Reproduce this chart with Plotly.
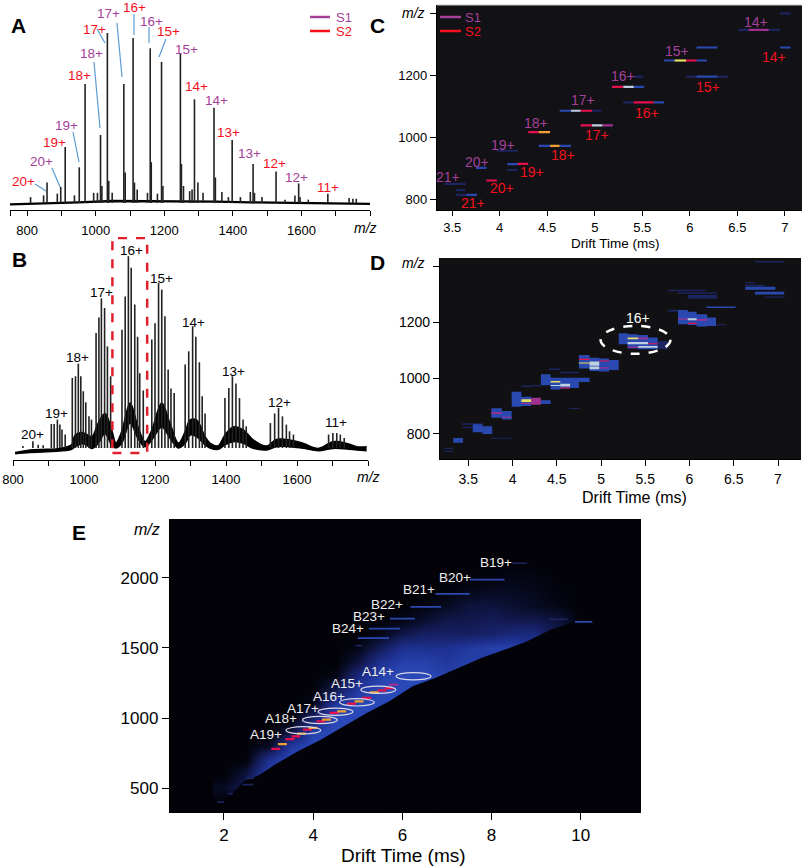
#!/usr/bin/env python
"""
Mass spectra (A, B) and drift time vs m/z maps (C, D, E)
"""
import plotly.graph_objects as go

W = 803
H = 867

# panel A, sticks
a_mz = [858, 898, 911, 952, 969, 1014, 1034, 1082, 1109, 1159, 1192, 1247, 1288, 1345, 1398, 1459, 1526, 1592, 1677,
        810, 848, 888, 938, 994, 1005, 1018, 1038, 1048, 1086, 1113, 1121, 1151, 1162, 1180, 1196, 1250, 1256, 1274,
        1281, 1298, 1313, 1349, 1368, 1387, 1422, 1451, 1463, 1485, 1552, 1581, 1596, 1620, 1739, 1750, 1760]
a_int = [12, 9.5, 33, 21, 70, 40, 100, 70, 97, 91, 83, 88, 61, 56, 37, 23, 18.5, 11.5, 5.5,
         3.5, 4.5, 5.5, 4.5, 6, 6, 10, 13, 6, 18, 12, 8, 6, 24, 5.5, 10, 23, 10, 7,
         8, 12, 6, 15, 6.5, 3.5, 3.5, 6.5, 6, 3.5, 2, 4.5, 3.5, 2, 3, 2.5, 2.5]
a_base_mz = [750, 850, 950, 1050, 1150, 1250, 1350, 1450, 1600, 1800]
a_base_int = [-0.8, -0.4, 0.4, 1.2, 1.2, 1.2, 0.8, 0.4, 0, -0.5]

# panel B, isotope/adduct sticks
b_mz = [828, 856, 871, 885, 908, 916, 925, 932, 938, 947,
        967, 976, 984, 991, 998, 1005, 1014, 1021,
        1034, 1042, 1049, 1058, 1066, 1075,
        1107, 1116, 1125, 1133, 1143, 1151, 1157, 1167,
        1191, 1200, 1210, 1219, 1228, 1237, 1245, 1254,
        1285, 1295, 1306, 1315, 1325, 1333, 1341,
        1397, 1408, 1418, 1428, 1438, 1448, 1457,
        1525, 1537, 1548, 1559, 1570, 1579, 1590,
        1689, 1701, 1712, 1722, 1733]
b_int = [1, 3.5, 1.7, 1.4, 12.5, 12.5, 14.8, 12.2, 9.6, 7,
         36.5, 37.4, 44, 37.4, 29.6, 23.8, 16.5, 14.8,
         60, 68, 78, 73, 53, 37.4,
         61.7, 79, 100, 94, 74.8, 58, 39, 30,
         56.5, 65, 86, 82.6, 68.7, 40.9, 31, 28.7,
         43.5, 50.4, 63.5, 58, 44.7, 27, 18,
         26, 31.3, 37.4, 33.6, 26, 14.8, 11.3,
         13, 18, 20.9, 16.5, 12.2, 8.7, 7,
         7, 7.8, 7.8, 7, 5.2]
# panel B, solid noise band under the sticks
b_env_mz = [806, 848, 895, 932, 965, 975, 998, 1022, 1040, 1059, 1078, 1090, 1106, 1130, 1152, 1172, 1191, 1219,
            1242, 1266, 1285, 1299, 1317, 1341, 1355, 1378, 1397, 1420, 1449, 1477, 1514, 1542, 1580, 1618, 1660,
            1702, 1740, 1768, 1796]
b_env_top = [-2.4, -1, -0.7, -0.2, 1.6, 6.8, 8, 5.9, 13, 18, 9.4, 2.6, 8.5, 23.4, 11, 3.3, 9.4, 23.4,
             13, 2.6, 8.5, 14.6, 14.6, 5.9, 2.6, 1.2, 6.8, 11, 9.4, 4.2, 1, 4.5, 4.2, 2.4, -0.2,
             3.3, 2.4, 0.7, 0.7]
b_env_low = [-3, -2.4, -1.9, -1.6, -0.7, 0.7, 2.4, -0.2, 2.4, 7.5, 1.6, 0, 2.4, 13, 5, 0.7, 4.2, 11,
             5.2, 0, 2.4, 6.8, 5.9, 1.6, 0, -0.7, 1.6, 3.3, 2.4, -0.2, -1, 0.7, 0.7, -0.2, -1.4,
             -0.2, -0.5, -1, -1.4]

# panel C, one row per intensity band
c_t0 = [3.42, 3.54, 3.54, 3.65, 3.75, 3.86, 3.97, 4.08, 4.19, 4.08, 4.30, 4.41, 4.41, 4.53, 4.63,
        4.63, 4.75, 4.85, 4.97, 4.85, 4.97, 5.08, 5.18, 5.30, 5.41, 5.41, 5.30, 5.41, 5.62,
        5.73, 5.84, 5.96, 6.07, 5.96, 6.07, 6.29, 6.07, 6.51, 6.62, 6.83, 6.95, 6.95]
c_t1 = [3.64, 3.64, 3.65, 3.76, 3.86, 3.97, 4.19, 4.19, 4.30, 4.19, 4.41, 4.53, 4.53, 4.63, 4.75,
        4.75, 4.85, 4.97, 5.07, 4.97, 5.08, 5.19, 5.30, 5.41, 5.52, 5.51, 5.41, 5.62, 5.73,
        5.84, 5.96, 6.07, 6.18, 6.07, 6.29, 6.40, 6.29, 6.62, 6.83, 6.95, 7.06, 7.06]
c_mz = [849, 829, 814, 814, 901, 860, 956, 913, 914, 894, 1016, 1016, 972, 972, 972,
        1085, 1085, 1085, 1085, 1038, 1038, 1038, 1162, 1162, 1162, 1195, 1112, 1112, 1112,
        1247, 1247, 1247, 1247, 1195, 1195, 1195, 1289, 1346, 1346, 1346, 1399, 1289]
c_level = [1, 1, 1, 2, 2, 4, 1, 2, 4, 1, 4, 5, 2, 5, 2,
           2, 6, 4, 1, 4, 6, 3, 4, 6, 2, 1, 1, 4, 2,
           2, 7, 4, 2, 1, 2, 1, 2, 1, 3, 1, 1, 2]

# panel D, blocks first, brighter stripes after
d_t0 = [3.22, 3.22, 3.33, 3.43, 3.43, 3.55, 3.66, 3.76, 3.76, 3.88, 3.99, 4.10, 4.21, 4.32, 4.10, 4.21,
        4.32, 4.43, 4.54, 4.65, 4.75, 4.41, 4.54, 4.75, 4.87, 4.98, 5.09,
        5.20, 5.30, 5.42, 5.53, 5.64, 5.76, 5.87, 5.98, 6.08, 6.2, 6.3, 6.19,
        5.76, 5.87, 5.98, 6.63, 6.63, 6.63, 6.74, 6.85, 7.07, 6.74, 4.64, 5.98,
        3.76, 3.88, 4.10, 4.10, 4.21, 4.43, 4.43, 4.54, 4.54, 4.75, 4.75, 4.87, 4.87, 4.98, 4.98,
        5.30, 5.30, 5.30, 5.42, 5.42, 5.53, 5.87, 5.98, 5.98, 6.08]
d_t1 = [3.33, 3.33, 3.44, 3.66, 3.55, 3.66, 3.77, 3.99, 3.88, 3.99, 4.10, 4.21, 4.32, 4.43, 4.21, 4.32,
        4.43, 4.54, 4.65, 4.75, 4.87, 4.54, 4.75, 4.87, 4.98, 5.09, 5.20,
        5.30, 5.42, 5.53, 5.64, 5.76, 5.87, 5.98, 6.08, 6.2, 6.3, 6.41, 6.52,
        6.18, 6.31, 6.31, 6.74, 6.85, 6.97, 7.07, 7.07, 7.18, 7.07, 4.76, 6.31,
        3.88, 3.99, 4.21, 4.21, 4.32, 4.54, 4.65, 4.65, 4.65, 4.87, 4.87, 4.98, 4.98, 5.09, 5.09,
        5.42, 5.53, 5.42, 5.53, 5.64, 5.64, 5.98, 6.08, 6.08, 6.2]
d_mz0 = [746, 736, 768, 833, 821, 806, 800, 783, 858, 852, 898, 900, 905, 908, 969, 971,
         975, 960, 963, 965, 987, 1030, 1018, 1035, 1026, 1024, 1030,
         1122, 1107, 1104, 1104, 1104, 1239, 1194, 1191, 1186, 1188, 1190, 1252,
         1313, 1304, 1286, 1341, 1330, 1318, 1301, 1289, 1286, 1416, 890, 1294,
         872, 858, 915, 908, 908, 985, 972, 970, 963, 1066, 1053, 1045, 1032, 1060, 1035,
         1140, 1122, 1109, 1140, 1110, 1122, 1210, 1208, 1195, 1207]
d_mz1 = [750, 740, 785, 838, 826, 835, 828, 786, 892, 882, 952, 934, 930, 921, 974, 976,
         1014, 1002, 1002, 1002, 1002, 1035, 1023, 1084, 1074, 1071, 1066,
         1162, 1158, 1155, 1146, 1134, 1246, 1245, 1239, 1230, 1218, 1194, 1258,
         1318, 1309, 1299, 1346, 1336, 1329, 1311, 1294, 1288, 1421, 893, 1298,
         878, 862, 925, 912, 920, 990, 976, 980, 967, 1070, 1057, 1060, 1042, 1064, 1040,
         1146, 1130, 1113, 1146, 1116, 1126, 1215, 1216, 1199, 1213]
d_level = [1, 1, 2, 1, 1, 2, 2, 1, 2, 2, 2, 2, 3, 2, 1, 1,
           2, 2, 2, 2, 2, 1, 1, 2, 2, 2, 2,
           2, 2, 2, 2, 1, 1, 2, 2, 2, 2, 1, 2,
           1, 1, 1, 1, 1, 2, 2, 1, 1, 1, 1, 1,
           3, 3, 7, 3, 3, 7, 6, 6, 4, 4, 7, 6, 6, 4, 3,
           7, 6, 3, 3, 6, 4, 3, 6, 4, 3]

# panel E, coarse intensity map (0 to 10)
e_grid_t = [2.0, 2.5, 3.0, 3.5, 4.0, 4.5, 5.0, 5.5, 6.0, 6.5, 7.0, 7.5, 8.0, 8.5, 9.0, 9.5, 10.0]
e_grid_mz = [400, 500, 600, 700, 800, 900, 1000, 1100, 1200, 1300, 1400, 1500, 1600, 1700, 1800, 1900, 2000, 2100]
e_grid_z = [
    [0, 0, 0, 0, 0, 0, 0, 0, 0, 0, 0, 0, 0, 0, 0, 0, 0],
    [1, 3, 6, 6, 0, 0, 0, 0, 0, 0, 0, 0, 0, 0, 0, 0, 0],
    [0, 2, 8, 8, 8, 0, 0, 0, 0, 0, 0, 0, 0, 0, 0, 0, 0],
    [0, 0, 6, 9, 9, 9, 0, 0, 0, 0, 0, 0, 0, 0, 0, 0, 0],
    [0, 0, 1, 7, 9, 9, 9, 0, 0, 0, 0, 0, 0, 0, 0, 0, 0],
    [0, 0, 0, 2, 8, 9, 9, 9, 0, 0, 0, 0, 0, 0, 0, 0, 0],
    [0, 0, 0, 0, 4, 9, 9, 9, 9, 0, 0, 0, 0, 0, 0, 0, 0],
    [0, 0, 0, 0, 0.5, 7, 9, 9, 9, 9, 0, 0, 0, 0, 0, 0, 0],
    [0, 0, 0, 0, 0, 3, 7, 9, 9, 9, 9, 0, 0, 0, 0, 0, 0],
    [0, 0, 0, 0, 0, 0.5, 5, 8, 9, 9, 8, 8, 0, 0, 0, 0, 0],
    [0, 0, 0, 0, 0, 0, 2, 6, 8, 8, 7, 8, 7, 7, 0, 0, 0],
    [0, 0, 0, 0, 0, 0, 0.5, 3, 6, 6, 6, 7, 8, 8, 6, 0, 0],
    [0, 0, 0, 0, 0, 0, 0, 0.5, 2.5, 3.5, 3.5, 3.5, 4, 5, 5, 2, 0],
    [0, 0, 0, 0, 0, 0, 0, 0, 0.5, 1.5, 2.5, 2.5, 3, 2.5, 2.5, 2, 0],
    [0, 0, 0, 0, 0, 0, 0, 0, 0, 0.3, 1, 2, 2, 1.5, 1, 0.5, 0],
    [0, 0, 0, 0, 0, 0, 0, 0, 0, 0, 0.2, 0.7, 1, 1, 0.7, 0.2, 0],
    [0, 0, 0, 0, 0, 0, 0, 0, 0, 0, 0, 0, 0.3, 0.5, 0.4, 0, 0],
    [0, 0, 0, 0, 0, 0, 0, 0, 0, 0, 0, 0, 0, 0, 0, 0, 0],
]
# panel E, where the signal stops on the low m/z side
e_edge_t = [1.9, 2.2, 2.45, 2.80, 3.14, 3.66, 4.17, 4.68, 5.20, 5.71, 6.23, 6.74, 7.26, 7.77, 8.29, 8.80, 9.32, 10.0, 10.0]
e_edge_mz = [380, 464, 548, 595, 667, 762, 845, 940, 1036, 1119, 1226, 1286, 1357, 1429, 1488, 1548, 1631, 1700, 330]
# panel E, sharp streaks
e_t0 = [5.0, 5.25, 5.72, 6.18, 6.74, 7.51, 8.46, 4.95, 9.87, 9.3, 1.85, 2.1, 2.42, 2.5]
e_t1 = [5.7, 5.95, 6.28, 6.87, 7.51, 8.29, 8.80, 5.1, 10.26, 9.7, 2.0, 2.2, 2.66, 2.68]
e_mz = [1571, 1638, 1710, 1793, 1886, 1988, 2105, 1517, 1686, 1705, 400, 460, 524, 571]
e_streak_level = [2, 2, 2, 2, 2, 2, 1, 1, 2, 1, 1, 1, 1, 1]
# panel E, hot ridge
e_hot_t = [3.16, 3.31, 3.48, 3.61, 3.74, 3.87, 4.0, 4.17, 4.30, 4.47, 4.64, 4.86, 5.03, 5.20, 5.37, 5.54, 5.71, 5.80]
e_hot_mz = [779, 814, 850, 869, 888, 917, 929, 976, 988, 1036, 1048, 1102, 1119, 1143, 1183, 1198, 1214, 1238]
e_hot_level = [4, 5, 4, 4, 5, 4, 5, 4, 5, 4, 5, 4, 5, 4, 5, 4, 4, 3]
# panel E, ellipses around the A series
e_ell_t = [3.78, 4.15, 4.5, 4.98, 5.46, 6.25]
e_ell_mz = [912, 986, 1045, 1112, 1202, 1298]

LEVEL_COLORS = {1: "#1c2560", 2: "#2a49b0", 3: "#a03090", 4: "#e8104c", 5: "#f0a030", 6: "#c0cfe0", 7: "#e8e060"}
E_BG = "#020208"
E_SCALE = [[0, E_BG], [0.3, "#141c58"], [0.6, "#1e3090"], [0.9, "#2a49b8"], [1, "#3055c8"]]
RED = "#f5101c"
PURPLE = "#a5409a"
BLUE_LINE = "#5b9bd5"
FONT = "Liberation Sans"

# text: (label, x px, y px)
A_RED = [("20+", 23, 181), ("19+", 54, 142), ("18+", 79, 75), ("17+", 94, 29), ("16+", 134, 7), ("15+", 168, 32),
         ("14+", 196, 87), ("13+", 228, 132), ("12+", 274, 163), ("11+", 328, 187)]
A_PURPLE = [("20+", 41, 161), ("19+", 66, 125), ("18+", 91, 54), ("17+", 109, 14), ("16+", 151, 21),
            ("15+", 186, 49), ("14+", 216, 101), ("13+", 249, 154), ("12+", 296, 177)]
B_TEXT = [("20+", 32, 434), ("19+", 56, 413), ("18+", 77, 357), ("17+", 101, 292), ("16+", 131, 250),
          ("15+", 161, 278), ("14+", 193, 322), ("13+", 233, 371), ("12+", 279, 402), ("11+", 336, 422)]
C_PURPLE = [("21+", 448, 177), ("20+", 477, 162), ("19+", 503, 145), ("18+", 536, 123), ("17+", 583, 100),
            ("16+", 623, 76), ("15+", 677, 51), ("14+", 756, 22)]
C_RED = [("21+", 473, 203), ("20+", 502, 188), ("19+", 532, 172), ("18+", 563, 155), ("17+", 597, 135),
         ("16+", 647, 113), ("15+", 708, 87), ("14+", 774, 57)]
E_TEXT = [("A19+", 266, 734), ("A18+", 281, 718), ("A17+", 303, 708), ("A16+", 329, 696), ("A15+", 347, 683),
          ("A14+", 378, 671), ("B24+", 348, 628), ("B23+", 369, 616), ("B22+", 387, 604), ("B21+", 419, 589),
          ("B20+", 455, 577), ("B19+", 496, 562)]
LEADERS = [(35, 184, 46, 191), (52, 168, 60, 187), (73, 132, 79, 162), (94, 62, 100, 128), (97, 29, 105, 43),
           (117, 23, 122, 77), (134, 14, 134, 35), (149, 27, 149, 43), (166, 39, 159, 57)]


def px(x):
    return x / W


def py(y):
    return 1 - y / H


def rects(t0, t1, low, high):
    """one closed path per block, None splits them"""
    xs, ys = [], []
    for a, b, c, d in zip(t0, t1, low, high):
        xs += [a, b, b, a, a, None]
        ys += [c, c, d, d, c, None]
    return xs, ys


def add_blocks(fig, t0, t1, low, high, levels, ax):
    for lev in sorted(set(levels)):
        idx = [i for i, l in enumerate(levels) if l == lev]
        xs, ys = rects([t0[i] for i in idx], [t1[i] for i in idx], [low[i] for i in idx], [high[i] for i in idx])
        fig.add_trace(go.Scatter(x=xs, y=ys, mode="lines", line={"width": 0}, fill="toself",
                                 fillcolor=LEVEL_COLORS[lev], xaxis="x" + ax, yaxis="y" + ax,
                                 hoverinfo="skip", showlegend=False))


def add_sticks(fig, mz, intensity, ax, width):
    xs, ys = [], []
    for m, v in zip(mz, intensity):
        xs += [m, m, None]
        ys += [0, v, None]
    fig.add_trace(go.Scatter(x=xs, y=ys, mode="lines", line={"color": "#222222", "width": width},
                             xaxis="x" + ax, yaxis="y" + ax, hoverinfo="skip", showlegend=False))


def text(label, x, y, color="black", size=13.5, **kw):
    return {"text": label, "x": px(x), "y": py(y), "xref": "paper", "yref": "paper", "showarrow": False,
            "xanchor": "center", "yanchor": "middle", "font": {"color": color, "size": size, "family": FONT}, **kw}


def x_axis(left, right, rng, size, **kw):
    return {"domain": [px(left), px(right)], "range": rng, "showgrid": False, "zeroline": False, "showline": True,
            "linecolor": "black", "linewidth": 1.3, "ticks": "outside", "tickcolor": "black", "tickwidth": 1.2,
            "tickfont": {"size": size, "family": FONT, "color": "black"}, **kw}


def y_axis(top, bottom, rng, **kw):
    return {"domain": [py(bottom), py(top)], "range": rng, "showgrid": False, "zeroline": False, **kw}


def drift_y(top, bottom, rng, vals, labels, size, ticklen):
    return y_axis(top, bottom, rng, showline=True, linecolor="black", linewidth=1.3, ticks="outside",
                  tickcolor="black", tickwidth=1.2, ticklen=ticklen, tickvals=vals, ticktext=labels,
                  tickfont={"size": size, "family": FONT, "color": "black"})


def main():
    fig = go.Figure()

    # A
    fig.add_trace(go.Scatter(x=a_base_mz, y=a_base_int, mode="lines", line={"color": "black", "width": 2.4},
                             xaxis="x", yaxis="y", hoverinfo="skip", showlegend=False))
    add_sticks(fig, a_mz, a_int, "", 1.6)

    # B
    fig.add_trace(go.Scatter(x=b_env_mz, y=b_env_low, mode="lines", line={"color": "black", "width": 1.5, "shape": "spline"},
                             xaxis="x2", yaxis="y2", hoverinfo="skip", showlegend=False))
    fig.add_trace(go.Scatter(x=b_env_mz, y=b_env_top, mode="lines", line={"color": "black", "width": 1.5, "shape": "spline"},
                             fill="tonexty", fillcolor="black", xaxis="x2", yaxis="y2",
                             hoverinfo="skip", showlegend=False))
    add_sticks(fig, b_mz, b_int, "2", 1.6)

    # C
    c_half = 3.5
    add_blocks(fig, c_t0, c_t1, [m - c_half for m in c_mz], [m + c_half for m in c_mz], c_level, "3")

    # D
    add_blocks(fig, d_t0, d_t1, d_mz0, d_mz1, d_level, "4")

    # E, soft map, then a cover below the sharp lower edge, then the sharp marks
    fig.add_trace(go.Heatmap(x=e_grid_t, y=e_grid_mz, z=e_grid_z, zmin=0, zmax=10, zsmooth="best",
                             colorscale=E_SCALE, showscale=False, xaxis="x5", yaxis="y5", hoverinfo="skip"))
    fig.add_trace(go.Scatter(x=e_edge_t + e_edge_t[:1], y=e_edge_mz + e_edge_mz[:1], mode="lines", line={"width": 0},
                             fill="toself", fillcolor=E_BG, xaxis="x5", yaxis="y5",
                             hoverinfo="skip", showlegend=False))
    add_blocks(fig, e_t0, e_t1, [m - 6 for m in e_mz], [m + 6 for m in e_mz], e_streak_level, "5")
    add_blocks(fig, [t - 0.1 for t in e_hot_t], [t + 0.1 for t in e_hot_t],
               [m - 8 for m in e_hot_mz], [m + 8 for m in e_hot_mz], e_hot_level, "5")

    shapes = []
    for x0, y0, x1, y1 in LEADERS:
        shapes.append({"type": "line", "xref": "paper", "yref": "paper", "x0": px(x0), "y0": py(y0),
                       "x1": px(x1), "y1": py(y1), "line": {"color": BLUE_LINE, "width": 1.2}})
    # legends of A and C
    for x0, x1 in ((310, 330), (440, 461)):
        shapes.append({"type": "line", "xref": "paper", "yref": "paper", "x0": px(x0), "y0": py(17),
                       "x1": px(x1), "y1": py(17), "line": {"color": PURPLE, "width": 2.5}})
        shapes.append({"type": "line", "xref": "paper", "yref": "paper", "x0": px(x0), "y0": py(31),
                       "x1": px(x1), "y1": py(31), "line": {"color": RED, "width": 2.5}})
    # selected window in B
    shapes.append({"type": "rect", "xref": "x2", "yref": "y2", "x0": 1080, "x1": 1178, "y0": -2.6, "y1": 109.5,
                   "line": {"color": "#e2202c", "width": 2.5, "dash": "dash"}})
    # 16+ in D
    shapes.append({"type": "circle", "xref": "x4", "yref": "y4", "x0": 5.39 - 0.395, "x1": 5.39 + 0.395,
                   "y0": 1138 - 50, "y1": 1138 + 50, "line": {"color": "white", "width": 2.5, "dash": "dash"}})
    for t, m in zip(e_ell_t, e_ell_mz):
        shapes.append({"type": "circle", "xref": "x5", "yref": "y5", "x0": t - 0.39, "x1": t + 0.39,
                       "y0": m - 26, "y1": m + 26, "line": {"color": "#d8d8e8", "width": 1.2}})
    # light rim along the top of C
    shapes.append({"type": "line", "xref": "paper", "yref": "paper", "x0": px(437), "y0": py(5),
                   "x1": px(802), "y1": py(5), "line": {"color": "#c8c8c8", "width": 1}})

    notes = []
    for lab, x, y in A_RED:
        notes.append(text(lab, x, y, RED))
    for lab, x, y in A_PURPLE:
        notes.append(text(lab, x, y, PURPLE))
    for lab, x, y in B_TEXT:
        notes.append(text(lab, x, y))
    for lab, x, y in C_PURPLE:
        notes.append(text(lab, x, y, PURPLE, 14))
    for lab, x, y in C_RED:
        notes.append(text(lab, x, y, RED, 14))
    for lab, x, y in E_TEXT:
        notes.append(text(lab, x, y, "#f0f0f0", 13.5))
    notes.append(text("16+", 638, 318, "white", 14))
    notes.append(text("S1", 344, 18, PURPLE, 13))
    notes.append(text("S2", 344, 31, RED, 13))
    notes.append(text("S1", 473, 18, PURPLE, 13))
    notes.append(text("S2", 473, 32, RED, 13))
    for lab, x, y in (("A", 18, 26), ("B", 19, 259), ("C", 377, 26), ("D", 377, 262), ("E", 79, 532)):
        notes.append(text("<b>" + lab + "</b>", x, y, "black", 21))
    for x, y, size in ((365, 228, 14), (368, 477, 14), (414, 13, 14), (414, 263, 14), (147, 529, 16)):
        notes.append(text("<i>m/z</i>", x, y, "black", size))
    notes.append(text("Drift Time (ms)", 615, 243, "black", 13.5))
    notes.append(text("Drift Time (ms)", 634, 497, "black", 16))
    notes.append(text("Drift Time (ms)", 403, 855, "black", 19))

    half_ticks = [3.5, 4, 4.5, 5, 5.5, 6, 6.5, 7]
    half_text = ["3.5", "4", "4.5", "5", "5.5", "6", "6.5", "7"]
    mz_ticks = [800, 1000, 1200, 1400]
    mz_text = ["800", "1000", "1200", ""]

    fig.update_layout(
        width=W, height=H, margin={"l": 0, "r": 0, "t": 0, "b": 0, "autoexpand": False},
        paper_bgcolor="white", plot_bgcolor="white", showlegend=False,
        font={"family": FONT}, shapes=shapes, annotations=notes,
        xaxis=x_axis(10, 370, [750, 1800], 13, tickvals=[800, 1000, 1200, 1400, 1600],
                     ticklen=5, ticklabelstandoff=3,
                     minor={"tickvals": [750, 900, 1100, 1300, 1500, 1700, 1800], "ticks": "outside",
                            "ticklen": 5, "tickcolor": "black", "tickwidth": 1.2}),
        yaxis=y_axis(0, 210, [-4.1, 119.4], visible=False),
        xaxis2=x_axis(13, 368, [800, 1800], 13, tickvals=[800, 1000, 1200, 1400, 1600],
                      ticklen=5, ticklabelstandoff=2, anchor="y2",
                      minor={"tickvals": [900, 1100, 1300, 1500, 1700, 1800], "ticks": "outside",
                             "ticklen": 5, "tickcolor": "black", "tickwidth": 1.2}),
        yaxis2=y_axis(237, 460, [-6.26, 110], visible=False, anchor="x2"),
        xaxis3=x_axis(437, 802, [3.34, 7.18], 13, tickvals=half_ticks, ticktext=half_text,
                      ticklen=5, ticklabelstandoff=0, anchor="y3"),
        yaxis3=drift_y(5, 210, [765, 1426], mz_ticks, mz_text, 13, 6) | {"anchor": "x3"},
        xaxis4=x_axis(440, 801, [3.18, 7.26], 14, tickvals=half_ticks, ticktext=half_text,
                      ticklen=6, ticklabelstandoff=1, anchor="y4"),
        yaxis4=drift_y(258, 459, [710, 1432], mz_ticks, mz_text, 14, 6) | {"anchor": "x4"},
        xaxis5=x_axis(170, 641, [0.79, 11.35], 17, tickvals=[2, 4, 6, 8, 10],
                      ticklen=7, ticklabelstandoff=0, anchor="y5"),
        yaxis5=drift_y(519, 812, [329, 2421], [500, 1000, 1500, 2000], ["500", "1000", "1500", "2000"], 17, 7)
        | {"anchor": "x5"},
    )
    # dark panels, plot_bgcolor is shared so paint them as shapes below the traces
    for left, top, right, bottom, col in ((437, 5, 802, 210, "#121216"), (440, 258, 801, 459, "#111114"),
                                          (170, 519, 641, 812, E_BG)):
        fig.add_shape(type="rect", xref="paper", yref="paper", x0=px(left), x1=px(right), y0=py(bottom), y1=py(top),
                      fillcolor=col, line={"width": 0}, layer="below")

    fig.write_html("out.html", config={"displayModeBar": False},
                   post_script="document.body.style.margin='0';")


if __name__ == '__main__':
    main()
